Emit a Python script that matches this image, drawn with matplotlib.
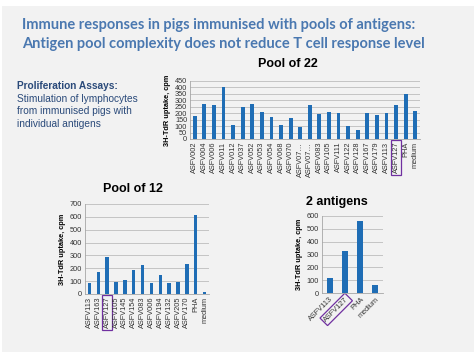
import matplotlib
matplotlib.use('Agg')
import matplotlib.pyplot as plt
from matplotlib.patches import Rectangle

# pool of 22
pool22_labels = ['ASFV002', 'ASFV004', 'ASFV006', 'ASFV011', 'ASFV012', 'ASFV037',
                 'ASFV052', 'ASFV053', 'ASFV054', 'ASFV068', 'ASFV070', 'ASFV07\u2026',
                 'ASFV07\u2026', 'ASFV083', 'ASFV105', 'ASFV111', 'ASFV122', 'ASFV128',
                 'ASFV167', 'ASFV179', 'ASFV113', 'ASFV127', 'PHA', 'medium']
pool22_values = [175, 272, 260, 401, 110, 250, 272, 211, 172, 110, 165, 90,
                 262, 193, 208, 198, 100, 72, 203, 188, 200, 267, 350, 221]

# pool of 12
pool12_labels = ['ASFV113', 'ASFV163', 'ASFV127', 'ASFV105', 'ASFV145', 'ASFV154',
                 'ASFV083', 'ASFV006', 'ASFV194', 'ASFV132', 'ASFV205', 'ASFV170',
                 'PHA', 'medium']
pool12_values = [86, 175, 285, 94, 112, 185, 222, 89, 151, 86, 97, 235, 612, 18]

# 2 antigens
two_labels = ['ASFV113', 'ASFV127', 'PHA', 'medium']
two_values = [119, 325, 558, 65]

highlight = 'ASFV127'
bar_color = '#1f6db5'
box_color = '#7030a0'
W, H = 474, 355
small = 5.3

fig = plt.figure(figsize=(4.74, 3.55), dpi=100, facecolor='white')
fig.patches.append(Rectangle((2 / W, 1 - 352 / H), 472 / W, 346 / H,
                             transform=fig.transFigure, fc='#f2f2f2', ec='none', zorder=-10))

fig.text(22 / W, 1 - 25 / H, 'Immune responses in pigs immunised with pools of antigens:',
         fontsize=10.5, fontweight='bold', color='#4a78b0', family='Lato', va='center')
fig.text(22 / W, 1 - 44 / H, 'Antigen pool complexity does not reduce T cell response level',
         fontsize=10.5, fontweight='bold', color='#4a78b0', family='Lato', va='center')

fig.text(17 / W, 1 - 86 / H, 'Proliferation Assays:', fontsize=7.3, fontweight='bold',
         color='#2a4a7a', family='Liberation Sans', va='center')
for i, line in enumerate(['Stimulation of lymphocytes', 'from immunised pigs with',
                          'individual antigens']):
    fig.text(17 / W, 1 - (99 + 12.5 * i) / H, line, fontsize=7.3,
             color='#2a4a7a', family='Liberation Sans', va='center')


def bar_panel(rect, labels, values, ymax, step, title, title_xy, rot=90):
    l, t, r, b = rect
    ax = fig.add_axes([l / W, 1 - b / H, (r - l) / W, (b - t) / H])
    ax.set_facecolor('none')
    x = range(len(values))
    ax.bar(x, values, width=0.4, color=bar_color, zorder=3)
    ax.set_xlim(-0.5, len(values) - 0.5)
    ax.set_ylim(0, ymax)
    ax.set_yticks(range(0, ymax + 1, step))
    ax.grid(axis='y', color='#bdbdbd', lw=0.6, zorder=0)
    for s in ['top', 'right']:
        ax.spines[s].set_visible(False)
    for s in ['left', 'bottom']:
        ax.spines[s].set_color('#a6a6a6')
        ax.spines[s].set_linewidth(0.6)
    ax.tick_params(axis='both', length=0, labelsize=small, pad=2, colors='#333333')
    ax.set_xticks(list(x))
    if rot == 90:
        ax.set_xticklabels(labels, rotation=90, family='Liberation Sans')
    else:
        ax.set_xticklabels(labels, rotation=rot, ha='right', rotation_mode='anchor',
                           family='Liberation Sans')
    for lab in ax.get_yticklabels():
        lab.set_family('Liberation Sans')
    ax.set_ylabel('3H-TdR uptake, cpm', fontsize=small, fontweight='bold',
                  family='Liberation Sans', labelpad=3)
    for lab in ax.get_xticklabels():
        if lab.get_text() == highlight:
            lab.set_bbox(dict(boxstyle='square,pad=0.25', fc='none', ec=box_color, lw=0.9))
    fig.text(title_xy[0] / W, 1 - title_xy[1] / H, title, fontsize=9, fontweight='bold',
             family='Liberation Sans', ha='center', va='center')
    return ax


bar_panel((190, 81, 420, 139), pool22_labels, pool22_values, 450, 50, 'Pool of 22', (288, 64))
bar_panel((85, 204, 209, 294), pool12_labels, pool12_values, 700, 100, 'Pool of 12', (133, 189))
bar_panel((322, 216, 383, 293), two_labels, two_values, 600, 100, '2 antigens', (337, 202), rot=45)

fig.savefig('out.png', dpi=100, facecolor=fig.get_facecolor())
